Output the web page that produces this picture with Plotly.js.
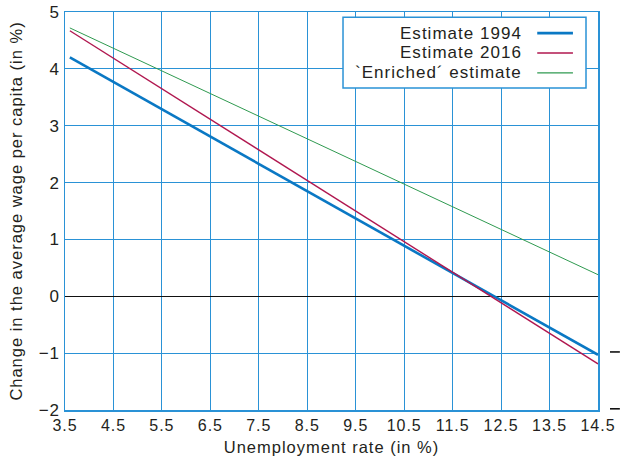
<!DOCTYPE html>
<html><head><meta charset="utf-8">
<script src="https://cdn.plot.ly/plotly-3.0.1.min.js"></script>
<style>html,body{margin:0;padding:0;background:#fff} svg text{letter-spacing:0.06em}</style>
</head><body><div id="c" style="width:620px;height:464px"></div>
<script>
const seriesNames = ["Estimate 1994", "Estimate 2016", "`Enriched´ estimate"];
const xStart = [3.6, 3.6, 3.6];
const xEnd = [14.5, 14.5, 14.5];
const est1994 = [4.2, -1.03];
const est2016 = [4.67, -1.19];
const enriched = [4.72, 0.38];
const xTicks = [3.5,4.5,5.5,6.5,7.5,8.5,9.5,10.5,11.5,12.5,13.5,14.5];
const yTicks = [-2,-1,0,1,2,3,4,5];
const yTickText = ["\u22122","\u22121","0","1","2","3","4","5"];
const rightTicks = [-1, -2];
const yMin = -2, yMax = 5;

const colors = ["#0a78c4", "#b0174f", "#2f9a50"];
const widths = [2.6, 1.4, 1];
const vals = [est1994, est2016, enriched];
const txt = "#231f20";
const fam = "Liberation Sans, Arial, sans-serif";
const font = {family: fam, size: 16.5, color: txt};

const traces = vals.map((v, i) => ({
  x: [xStart[i], xEnd[i]], y: v, mode: "lines", name: seriesNames[i],
  line: {color: colors[i], width: widths[i]}, showlegend: false, hoverinfo: "skip"
}));

const gridC = "#2a92d6";
const shapes = [];
const annotations = [];
// legend box
shapes.push({type: "rect", xref: "paper", yref: "paper", x0: 0.5216, x1: 0.9775, y0: 0.809, y1: 0.987,
  line: {color: gridC, width: 1.5}, fillcolor: "#fff", layer: "above"});
const rowY = [0.947, 0.897, 0.847];
seriesNames.forEach((n, i) => {
  annotations.push({xref: "paper", yref: "paper", x: 0.861, y: rowY[i], xanchor: "right", yanchor: "middle",
    text: n, showarrow: false, font: {family: fam, size: 17, color: txt}});
  shapes.push({type: "line", xref: "paper", yref: "paper", x0: 0.886, x1: 0.953, y0: rowY[i], y1: rowY[i],
    line: {color: colors[i], width: widths[i] + 0.3}, layer: "above"});
});
// right-side stray ticks drawn as plain path shapes
rightTicks.forEach(v => {
  const py = (v - yMin) / (yMax - yMin) + 0.003;
  shapes.push({type: "rect", xref: "paper", yref: "paper", x0: 1.0225, x1: 1.041, y0: py - 0.002, y1: py + 0.002,
    line: {width: 0}, fillcolor: "#111", layer: "above"});
});

const layout = {
  width: 620, height: 464,
  margin: {l: 65, r: 22, t: 12, b: 54},
  paper_bgcolor: "#fff", plot_bgcolor: "#fff",
  font: font,
  xaxis: {range: [3.5, 14.5], tickvals: xTicks, ticktext: xTicks.map(String), showgrid: true, gridcolor: gridC, gridwidth: 1,
    showline: true, linecolor: gridC, linewidth: 1.5, mirror: true, zeroline: false, ticks: "",
    tickfont: {family: fam, size: 16, color: txt}, title: {text: "Unemployment rate (in %)", font: font, standoff: 8}},
  yaxis: {range: [yMin, yMax], tickvals: yTicks, ticktext: yTickText, showgrid: true, gridcolor: gridC, gridwidth: 1,
    showline: true, linecolor: gridC, linewidth: 1.5, mirror: true, zeroline: true, zerolinecolor: "#111", zerolinewidth: 1,
    ticks: "", tickfont: {family: fam, size: 17, color: txt}, title: {text: "Change in the average wage per capita (in %)", font: font, standoff: 12}},
  shapes: shapes, annotations: annotations, showlegend: false
};
Plotly.newPlot("c", traces, layout, {displayModeBar: false, staticPlot: true});
</script></body></html>
